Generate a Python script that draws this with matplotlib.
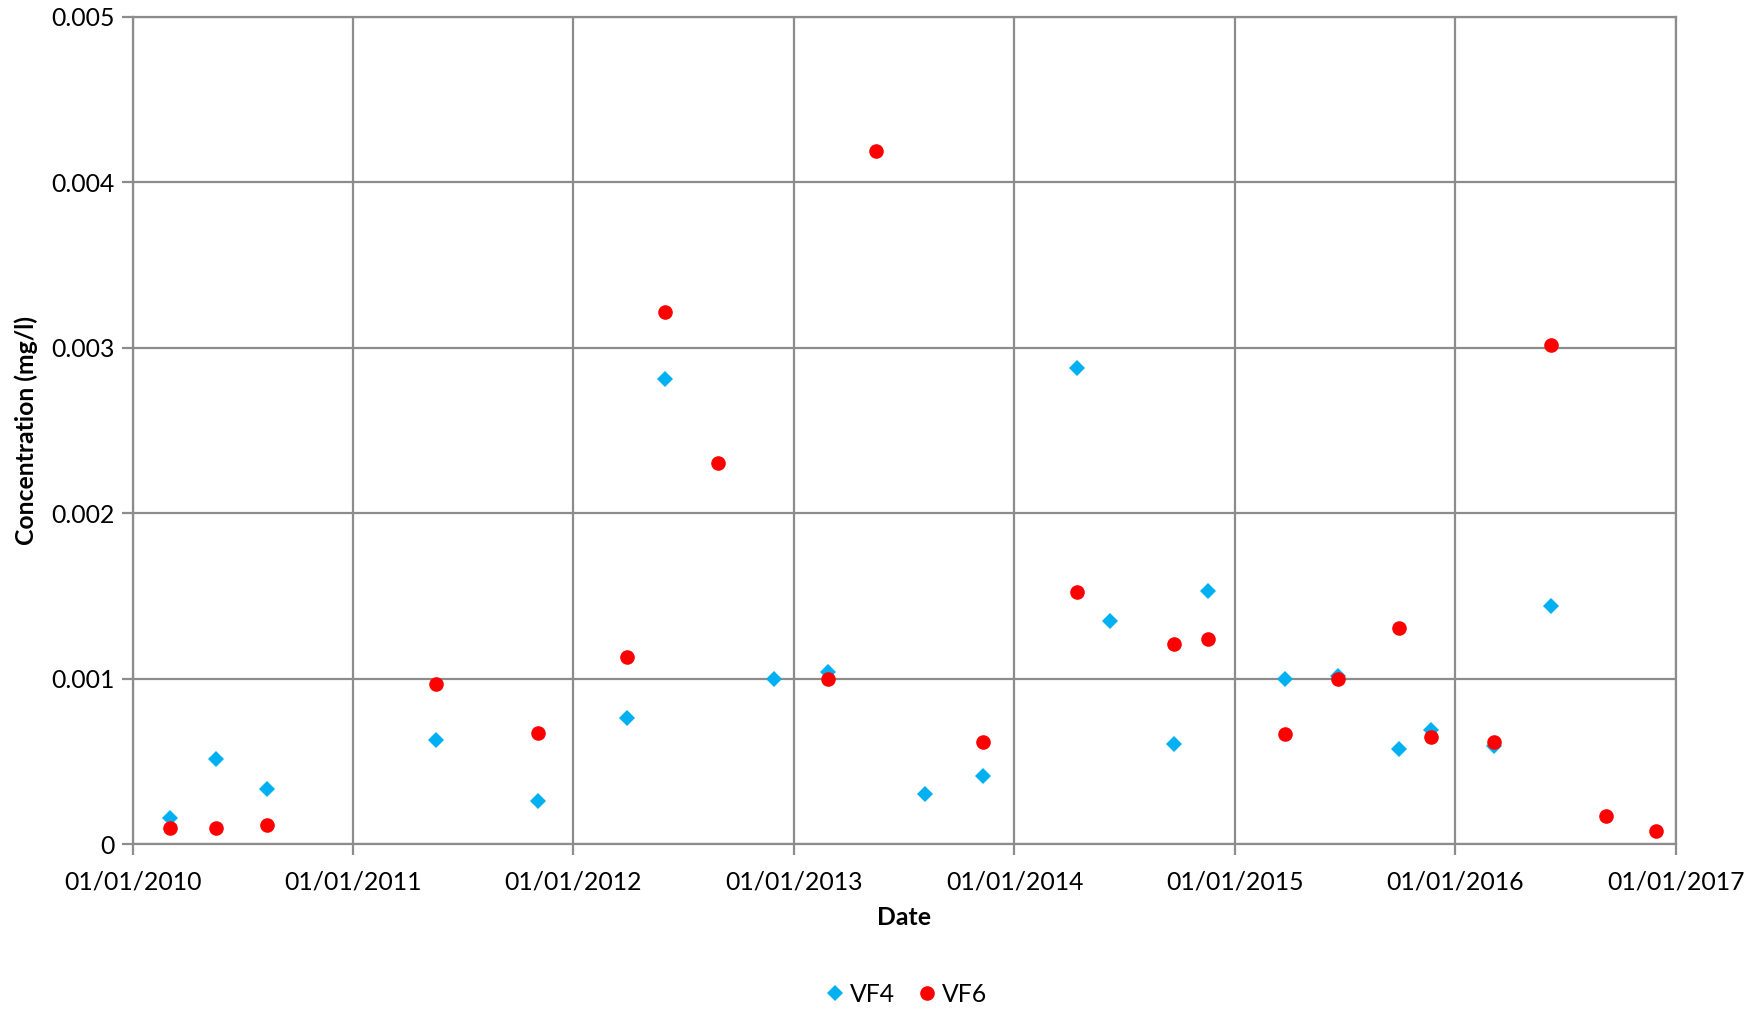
import matplotlib
matplotlib.use("Agg")
import matplotlib.pyplot as plt
import matplotlib.dates as mdates
from matplotlib.ticker import FuncFormatter, MultipleLocator
from datetime import datetime

plt.rcParams['font.family'] = ['Lato', 'DejaVu Sans']

vf4_dates = ["2010-03-03", "2010-05-18", "2010-08-11", "2011-05-18", "2011-11-04",
             "2012-03-30", "2012-06-01", "2012-11-29", "2013-02-26", "2013-08-05",
             "2013-11-10", "2014-04-15", "2014-06-08", "2014-09-23", "2014-11-18",
             "2015-03-25", "2015-06-22", "2015-09-30", "2015-11-23", "2016-03-06",
             "2016-06-08"]
vf4_values = [0.000162, 0.000516, 0.000335, 0.000631, 0.000263,
              0.000765, 0.002811, 0.001000, 0.001043, 0.000305,
              0.000415, 0.002879, 0.001352, 0.000605, 0.001531,
              0.001000, 0.001020, 0.000579, 0.000689, 0.000594,
              0.001440]

vf6_dates = ["2010-03-03", "2010-05-18", "2010-08-11", "2011-05-18", "2011-11-04",
             "2012-03-30", "2012-06-01", "2012-08-28", "2013-02-26", "2013-05-16",
             "2013-11-10", "2014-04-15", "2014-09-23", "2014-11-18", "2015-03-25",
             "2015-06-22", "2015-09-30", "2015-11-23", "2016-03-06", "2016-06-08",
             "2016-09-07", "2016-11-29"]
vf6_values = [0.000101, 0.000101, 0.000119, 0.000970, 0.000676,
              0.001134, 0.003219, 0.002302, 0.001000, 0.004191,
              0.000620, 0.001523, 0.001212, 0.001244, 0.000667,
              0.001000, 0.001305, 0.000652, 0.000620, 0.003020,
              0.000171, 0.000084]

x_start, x_end = "2010-01-01", "2017-01-01"
y_max = 0.005

to_dt = lambda s: datetime.strptime(s, "%Y-%m-%d")

fig = plt.figure(figsize=(17.54, 10.10), dpi=100)
ax = fig.add_axes([0.0758, 0.1639, 0.9554 - 0.0758, 0.9834 - 0.1639])

grey = '#8c8c8c'
ax.plot([to_dt(d) for d in vf4_dates], vf4_values, linestyle='none', marker='D',
        markersize=8, color='#00B0F0', markeredgewidth=0, label='VF4', zorder=3)
ax.plot([to_dt(d) for d in vf6_dates], vf6_values, linestyle='none', marker='o',
        markersize=10.5, color='#FF0000', markeredgewidth=0, label='VF6', zorder=3)

ax.set_xlim(to_dt(x_start), to_dt(x_end))
ax.set_ylim(0, y_max)
ax.xaxis.set_major_locator(mdates.YearLocator())
ax.xaxis.set_major_formatter(mdates.DateFormatter('%d/%m/%Y'))
ax.yaxis.set_major_locator(MultipleLocator(0.001))
ax.yaxis.set_major_formatter(FuncFormatter(lambda v, p: '%g' % round(v, 6)))

ax.grid(True, color=grey, linewidth=1.6)
ax.set_axisbelow(True)
for s in ax.spines.values():
    s.set_color(grey)
    s.set_linewidth(1.6)
ax.tick_params(axis='both', colors=grey, labelcolor='black', labelsize=17.8,
               length=8, width=1.6, direction='out')
ax.tick_params(axis='x', pad=11)
ax.tick_params(axis='y', pad=5)

ax.set_xlabel('Date', fontsize=17.8, fontweight='bold', labelpad=9)
ax.set_ylabel('Concentration (mg/l)', fontsize=17.8, fontweight='bold', labelpad=10)

fig.legend(loc='center', bbox_to_anchor=(0.5157, 0.0158), ncol=2, frameon=False,
           fontsize=17.8, handletextpad=0.1, columnspacing=0.8, handlelength=1.0)

fig.savefig('out.png', dpi=100)
